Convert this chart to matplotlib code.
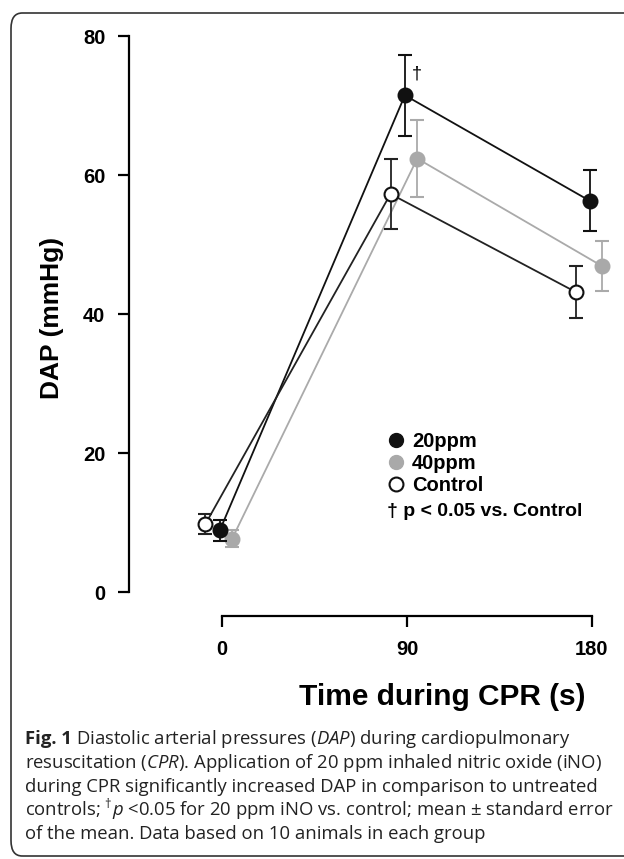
import matplotlib
matplotlib.use("Agg")
import matplotlib.pyplot as plt
from matplotlib.patches import FancyBboxPatch
from matplotlib.lines import Line2D

plt.rcParams['font.family'] = ['Liberation Sans', 'DejaVu Sans']
plt.rcParams['mathtext.fontset'] = 'custom'
plt.rcParams['mathtext.rm'] = 'Open Sans'
plt.rcParams['mathtext.it'] = 'Open Sans:italic'
plt.rcParams['mathtext.bf'] = 'Open Sans:bold'

# data
times = [0, 90, 180]
groups = ['20ppm', '40ppm', 'Control']
dap_20ppm = [8.9, 71.5, 56.3]
sem_20ppm = [1.5, 5.8, 4.4]
dap_40ppm = [7.7, 62.4, 46.9]
sem_40ppm = [1.2, 5.6, 3.6]
dap_control = [9.8, 57.3, 43.2]
sem_control = [1.5, 5.0, 3.8]

# small horizontal shift per group so the points don't overlap
shift = {'20ppm': -1, '40ppm': 5, 'Control': -8}

fig = plt.figure(figsize=(6.24, 8.59), dpi=100)
W, H = 624, 859

# rounded frame around the figure (right side runs off the page)
frame = FancyBboxPatch((11 / W, 3 / H), 700 / W, 843 / H,
                       boxstyle="round,pad=0,rounding_size=0.018",
                       transform=fig.transFigure, fill=False,
                       edgecolor='#333333', linewidth=1.2, clip_on=False)
fig.patches.append(frame)

ax = fig.add_axes([129 / W, 1 - 616 / H, (615 - 129) / W, (616 - 30) / H])
ax.set_xlim(-45.2, 191.2)
ax.set_ylim(-3.45, 80.9)

styles = {
    '20ppm': dict(color='#111111', mfc='#111111', mec='#111111', z=4),
    '40ppm': dict(color='#aaaaaa', mfc='#a9a9a9', mec='#a9a9a9', z=3),
    'Control': dict(color='#222222', mfc='white', mec='#111111', z=5),
}
values = {'20ppm': (dap_20ppm, sem_20ppm), '40ppm': (dap_40ppm, sem_40ppm),
          'Control': (dap_control, sem_control)}

for g in ['40ppm', '20ppm', 'Control']:
    y, e = values[g]
    s = styles[g]
    x = [t + shift[g] for t in times]
    ax.errorbar(x, y, yerr=e, color=s['color'], ecolor=s['color'],
                elinewidth=1.3, capsize=5, capthick=1.3, lw=1.3,
                marker='o', ms=10, mfc=s['mfc'], mec=s['mec'], mew=1.5,
                zorder=s['z'])

ax.text(90 + 5, 74.5, '†', fontsize=13, ha='center', va='center')

for sp in ['top', 'right']:
    ax.spines[sp].set_visible(False)
ax.spines['left'].set_bounds(0, 80)
ax.spines['bottom'].set_bounds(0, 180)
ax.spines['left'].set_linewidth(1.6)
ax.spines['bottom'].set_linewidth(1.6)
ax.set_yticks([0, 20, 40, 60, 80])
ax.set_xticks(times)
ax.tick_params(direction='out', length=8, width=1.6, labelsize=14.5, pad=9)
for lab in ax.get_xticklabels() + ax.get_yticklabels():
    lab.set_fontweight('bold')
ax.patch.set_alpha(0)

# legend
handles = [
    Line2D([], [], ls='none', marker='o', ms=10, mfc='#111111', mec='#111111'),
    Line2D([], [], ls='none', marker='o', ms=10, mfc='#a9a9a9', mec='#a9a9a9'),
    Line2D([], [], ls='none', marker='o', ms=10, mfc='white', mec='#111111', mew=1.5),
]
fig.legend(handles, groups, loc='upper left', bbox_to_anchor=(376 / W, 1 - 422 / H),
           frameon=False, prop={'weight': 'bold', 'size': 14.5},
           handlelength=1.0, handletextpad=0.3, labelspacing=0.15, borderpad=0)
fig.text(387 / W, 1 - 512 / H, '† p < 0.05 vs. Control', fontsize=14,
         fontweight='bold', va='center', ha='left')

# axis labels
fig.text(52 / W, 1 - 318 / H, 'DAP (mmHg)', rotation=90, fontsize=19,
         fontweight='bold', ha='center', va='center')
fig.text(442 / W, 1 - 697 / H, 'Time during CPR (s)', fontsize=21.5,
         fontweight='bold', ha='center', va='center')

# caption
cap_font = dict(fontsize=13.3, family=['Open Sans', 'DejaVu Sans'],
                color='#222222', va='baseline')
caption = [
    r'Diastolic arterial pressures ($\mathit{DAP}$) during cardiopulmonary',
    r'resuscitation ($\mathit{CPR}$). Application of 20 ppm inhaled nitric oxide (iNO)',
    r'during CPR significantly increased DAP in comparison to untreated',
    r'controls; $^{†}\mathit{p}$ <0.05 for 20 ppm iNO vs. control; mean ± standard error',
    r'of the mean. Data based on 10 animals in each group',
]
base0 = 744
figlab = fig.text(25 / W, 1 - base0 / H, 'Fig. 1', fontweight='bold', **cap_font)
renderer = fig.canvas.get_renderer()
x_after = figlab.get_window_extent(renderer).x1 + 4
for i, line in enumerate(caption):
    x0 = x_after / W if i == 0 else 25 / W
    fig.text(x0, 1 - (base0 + i * 23.8) / H, line, **cap_font)

fig.savefig('out.png', dpi=100)
